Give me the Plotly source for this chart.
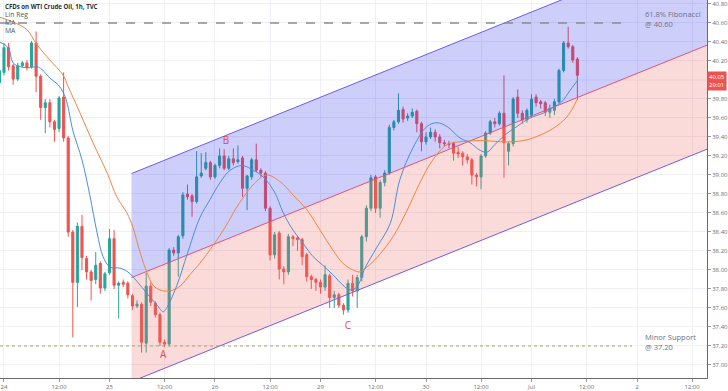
import plotly.graph_objects as go

# ---------------- data ----------------
bar_index = list(range(-1, 126))

opens = [39.97, 40.08, 40.34, 40.15, 40.01, 40.15, 40.18, 40.14, 40.39, 40.04,
         39.71, 39.76, 39.56, 39.49, 39.82, 39.39, 38.40, 37.87, 38.46, 38.12,
         37.98, 37.90, 38.07, 37.81, 37.97, 38.33, 37.84, 37.87, 37.86, 37.73,
         37.62, 37.64, 37.23, 37.83, 37.65, 37.53, 37.24, 37.22, 38.21, 38.18,
         38.36, 38.80, 38.78, 38.72, 38.99, 39.07, 39.13, 38.98, 39.10, 39.20,
         39.07, 39.17, 39.14, 39.18, 38.86, 38.98, 39.16, 39.05, 39.02, 38.65,
         38.16, 38.39, 38.01, 37.98, 38.35, 38.34, 38.32, 38.16, 37.93, 37.90,
         37.87, 37.82, 37.94, 37.71, 37.74, 37.63, 37.58, 37.86, 37.78, 37.92,
         38.35, 38.65, 38.98, 38.65, 38.92, 39.02, 39.50, 39.56, 39.69, 39.60,
         39.62, 39.67, 39.54, 39.35, 39.40, 39.45, 39.40, 39.34, 39.33, 39.33,
         39.24, 39.23, 39.19, 39.16, 39.00, 38.98, 39.20, 39.44, 39.56, 39.54,
         39.65, 39.25, 39.33, 39.82, 39.65, 39.58, 39.63, 39.82, 39.77, 39.76,
         39.66, 39.68, 39.77, 40.10, 40.39, 40.35, 40.22]

highs = [40.15, 40.39, 40.39, 40.17, 40.18, 40.20, 40.21, 40.41, 40.51, 40.06,
         39.80, 39.80, 39.58, 39.83, 40.08, 39.41, 38.42, 38.50, 38.58, 38.15,
         38.00, 38.19, 38.09, 37.98, 38.43, 38.42, 37.88, 37.90, 37.88, 37.75,
         37.68, 37.66, 37.97, 37.87, 37.67, 37.55, 37.27, 38.23, 38.24, 38.37,
         38.82, 38.90, 38.80, 39.25, 39.23, 39.24, 39.15, 39.12, 39.28, 39.27,
         39.20, 39.28, 39.31, 39.20, 39.00, 39.18, 39.33, 39.07, 39.04, 38.67,
         38.40, 38.41, 38.04, 38.38, 38.37, 38.36, 38.34, 38.18, 37.95, 37.92,
         37.90, 38.05, 37.96, 37.78, 37.76, 37.65, 37.90, 37.95, 37.95, 38.37,
         38.68, 39.00, 39.00, 38.95, 39.05, 39.53, 39.58, 39.86, 39.72, 39.65,
         39.70, 39.69, 39.56, 39.45, 39.50, 39.48, 39.43, 39.37, 39.36, 39.35,
         39.30, 39.25, 39.22, 39.18, 39.02, 39.22, 39.46, 39.58, 39.60, 39.67,
         40.05, 39.35, 39.82, 39.90, 39.68, 39.70, 39.85, 39.85, 39.79, 39.78,
         39.74, 39.80, 40.12, 40.41, 40.56, 40.37, 40.24]

lows = [39.93, 40.05, 40.10, 39.95, 39.99, 40.13, 40.10, 40.12, 39.87, 39.58,
        39.44, 39.50, 39.35, 39.45, 39.35, 38.35, 37.29, 37.61, 38.00, 37.90,
        37.68, 37.85, 37.75, 37.78, 37.95, 37.80, 37.49, 37.82, 37.70, 37.58,
        37.60, 37.13, 37.13, 37.62, 37.50, 37.20, 37.19, 37.20, 38.15, 37.93,
        38.33, 38.74, 38.56, 38.70, 38.97, 39.05, 38.95, 38.96, 39.07, 39.05,
        39.05, 39.10, 39.12, 38.77, 38.63, 38.95, 39.03, 38.98, 38.62, 38.10,
        38.12, 37.90, 37.85, 37.95, 38.25, 38.20, 38.05, 37.88, 37.80, 37.78,
        37.75, 37.78, 37.60, 37.60, 37.60, 37.53, 37.55, 37.72, 37.60, 37.88,
        38.30, 38.62, 38.60, 38.55, 38.88, 39.00, 39.47, 39.54, 39.55, 39.57,
        39.60, 39.45, 39.25, 39.32, 39.38, 39.35, 39.28, 39.30, 39.28, 39.15,
        39.18, 39.10, 39.12, 38.90, 38.88, 38.85, 39.18, 39.42, 39.50, 39.52,
        38.97, 39.10, 39.30, 39.60, 39.54, 39.55, 39.60, 39.72, 39.70, 39.62,
        39.60, 39.63, 39.75, 40.08, 40.33, 40.18, 39.79]

closes = [40.10, 40.34, 40.14, 40.01, 40.15, 40.18, 40.13, 40.39, 40.04, 39.71,
          39.76, 39.56, 39.48, 39.81, 39.39, 38.40, 37.87, 38.46, 38.13, 37.98,
          37.89, 38.05, 37.81, 37.96, 38.33, 37.84, 37.86, 37.85, 37.74, 37.62,
          37.64, 37.24, 37.83, 37.66, 37.53, 37.24, 37.22, 38.21, 38.18, 38.35,
          38.79, 38.77, 38.72, 38.98, 39.02, 39.13, 38.98, 39.10, 39.20, 39.07,
          39.17, 39.13, 39.16, 38.86, 38.99, 39.16, 39.05, 39.02, 38.65, 38.16,
          38.37, 38.01, 37.98, 38.35, 38.33, 38.32, 38.14, 37.93, 37.90, 37.87,
          37.82, 37.95, 37.71, 37.74, 37.63, 37.58, 37.86, 37.78, 37.92, 38.35,
          38.65, 38.97, 38.65, 38.92, 39.02, 39.50, 39.56, 39.68, 39.59, 39.62,
          39.66, 39.54, 39.35, 39.40, 39.45, 39.40, 39.34, 39.33, 39.32, 39.23,
          39.22, 39.19, 39.16, 39.00, 38.98, 39.20, 39.44, 39.56, 39.54, 39.65,
          39.34, 39.33, 39.80, 39.65, 39.58, 39.68, 39.80, 39.76, 39.75, 39.66,
          39.70, 39.77, 40.10, 40.39, 40.35, 40.21, 40.05]

# fast MA (blue), read at sample bars
ma_fast_x = [-0.87, 0.9, 2.0, 3.5, 5.7, 7.2, 8.3, 10, 11.8, 12.9, 13.7, 15, 17, 18.7,
             20.3, 21.6, 23.1, 25.3, 27, 29, 31.2, 33.4, 34.7, 35.8, 37.7, 39.9,
             42.7, 44.9, 47.1, 49.3, 51.9, 54.3, 56.5, 59.1, 60.8, 63, 65.2, 67.4,
             69.5, 71.7, 73.9, 75.4, 76.9, 78.7, 81.3, 84.2, 86.3, 89.2, 92.2, 94.4,
             96.6, 99.4, 101.6, 103.8, 105.3, 107, 109.7, 111.8, 114.7, 117.5,
             119.7, 121.6, 123.4, 125.1]
ma_fast_y = [40.40, 40.34, 40.18, 40.14, 40.13, 40.14, 40.11, 40.02, 39.95, 39.87,
             39.77, 39.47, 39.16, 38.79, 38.39, 38.14, 38.03, 38.02, 37.98, 37.88,
             37.75, 37.63, 37.56, 37.63, 37.84, 38.16, 38.55, 38.74, 38.92, 39.05,
             39.10, 39.05, 38.98, 38.81, 38.61, 38.42, 38.28, 38.14, 38.05, 37.95,
             37.84, 37.79, 37.82, 38.02, 38.24, 38.49, 38.95, 39.29, 39.51, 39.55,
             39.51, 39.39, 39.34, 39.26, 39.24, 39.32, 39.44, 39.51, 39.60, 39.65,
             39.71, 39.77, 39.89, 40.00]

# slow MA (orange)
ma_slow_x = [-0.87, 2.0, 5, 7.2, 10, 12.9, 14, 16.6, 19.4, 22.5, 24.6, 26.8, 28.1,
             29.7, 31.2, 32.5, 34, 36.2, 38.4, 40.5, 42.7, 45.6, 48.2, 51.4, 55.2,
             57.3, 60.2, 63, 66.1, 68.9, 71.7, 73.9, 76.1, 77.6, 79.1, 81.3, 84.8,
             87.9, 90.7, 93.5, 96.6, 99.4, 102.2, 105.3, 108.1, 111, 114, 116.9,
             119.7, 122.7, 124.9]
ma_slow_y = [40.66, 40.61, 40.53, 40.37, 40.21, 40.05, 39.93, 39.65, 39.34, 39.02,
             38.77, 38.60, 38.45, 38.18, 37.97, 37.84, 37.79, 37.78, 37.83, 37.95,
             38.07, 38.26, 38.45, 38.71, 38.94, 39.00, 38.93, 38.79, 38.63, 38.42,
             38.21, 38.07, 38.00, 37.98, 38.03, 38.13, 38.35, 38.63, 38.92, 39.16,
             39.32, 39.35, 39.36, 39.36, 39.35, 39.35, 39.37, 39.42, 39.49, 39.61,
             39.79]

day_labels = ["24", "25", "26", "29", "30", "Jul", "2"]
half_day_label = "12:00"

price_ticks_from, price_ticks_to, price_step = 37.0, 40.8, 0.2

fib_level = 40.60
support_level = 37.20

channel_start = 27.8
channel_end = 153.3
channel_mid_start = 37.92
channel_slope = 0.0195
channel_dev = 1.095

wave_labels = ["A", "B", "C"]
wave_x = [34.7, 48.4, 75.0]
wave_y = [37.10, 39.35, 37.41]

last_price = 40.05
countdown = "29:01"

# ---------------- figure ----------------
BARS_PER_DAY = 23
tickvals, ticktext = [], []
for d, lab in enumerate(day_labels):
    tickvals += [d * BARS_PER_DAY, d * BARS_PER_DAY + 12]
    ticktext += [lab, half_day_label]

n_price = int(round((price_ticks_to - price_ticks_from) / price_step)) + 1
all_levels = [round(price_ticks_from + i * price_step, 2) for i in range(n_price)]
# the tick label hidden behind the last-price tag is not shown
y_tickvals = [v for v in all_levels if abs(v - last_price) > 0.1]
hidden_levels = [v for v in all_levels if v not in y_tickvals]

fig = go.Figure()

fig.add_trace(go.Candlestick(
    x=bar_index, open=opens, high=highs, low=lows, close=closes,
    increasing=dict(line=dict(color="#26a69a", width=1), fillcolor="#26a69a"),
    decreasing=dict(line=dict(color="#ef5350", width=1), fillcolor="#ef5350"),
    whiskerwidth=0, showlegend=False, hoverinfo="skip"))

cx = [channel_start, channel_end]
mid = [channel_mid_start + channel_slope * (x - channel_start) for x in cx]
lower = [m - channel_dev for m in mid]
upper = [m + channel_dev for m in mid]

fig.add_trace(go.Scatter(x=cx, y=lower, mode="lines",
                         line=dict(color="#6f5ce6", width=1), showlegend=False,
                         hoverinfo="skip"))
fig.add_trace(go.Scatter(x=cx, y=mid, mode="lines", fill="tonexty",
                         fillcolor="rgba(240,100,100,0.24)",
                         line=dict(color="#e0527a", width=1), showlegend=False,
                         hoverinfo="skip"))
fig.add_trace(go.Scatter(x=cx, y=upper, mode="lines", fill="tonexty",
                         fillcolor="rgba(50,50,240,0.24)",
                         line=dict(color="#6f5ce6", width=1), showlegend=False,
                         hoverinfo="skip"))

fig.add_trace(go.Scatter(x=ma_slow_x, y=ma_slow_y, mode="lines",
                         line=dict(color="#f0853f", width=1, shape="spline"),
                         showlegend=False, hoverinfo="skip"))
fig.add_trace(go.Scatter(x=ma_fast_x, y=ma_fast_y, mode="lines",
                         line=dict(color="#4a8fd8", width=1, shape="spline"),
                         showlegend=False, hoverinfo="skip"))

fig.add_trace(go.Scatter(x=wave_x, y=wave_y, mode="text", text=wave_labels,
                         textfont=dict(color="#e5484d", size=10, family="Open Sans"),
                         showlegend=False, hoverinfo="skip"))

for v in hidden_levels:
    fig.add_shape(type="line", xref="paper", yref="y", x0=0, x1=1, y0=v, y1=v,
                  layer="below", line=dict(color="#eef0f5", width=1))

fig.add_shape(type="line", xref="paper", yref="y", x0=0, x1=0.891,
              y0=fib_level, y1=fib_level,
              line=dict(color="#8c8c8c", width=1.3, dash="dash"))
fig.add_shape(type="line", xref="paper", yref="y", x0=0, x1=0.894,
              y0=support_level, y1=support_level,
              line=dict(color="#a3a37f", width=1.2, dash="dot"))

txt = "#6b7389"
fig.add_annotation(xref="paper", yref="y", x=0.909, y=fib_level, xanchor="left",
                   yanchor="middle", yshift=4, showarrow=False, align="left",
                   text=f"61.8% Fibonacci<br>@ {fib_level:.2f}",
                   font=dict(size=7.5, color=txt, family="Open Sans"))
fig.add_annotation(xref="paper", yref="y", x=0.909, y=support_level, xanchor="left",
                   yanchor="middle", yshift=4, showarrow=False, align="left",
                   text=f"Minor Support<br>@ {support_level:.2f}",
                   font=dict(size=7.5, color=txt, family="Open Sans"))

legend_rows = ["CFDs on WTI Crude Oil, 1h, TVC", "Lin Reg", "MA", "MA"]
for k, row in enumerate(legend_rows):
    fig.add_annotation(xref="paper", yref="paper", x=0.004, y=1 - (7 + 8 * k) / 378,
                       xanchor="left", yanchor="middle", showarrow=False,
                       text=f"<b>{row}</b>" if k == 0 else row,
                       font=dict(size=6.1 if k == 0 else 6.8,
                                 color="#2a2e39" if k == 0 else "#555",
                                 family="Open Sans"))

fig.add_annotation(xref="paper", yref="y", x=1.0, y=last_price, xanchor="left",
                   yanchor="top", yshift=4, showarrow=False,
                   text=f"{last_price:.2f}<br>{countdown}",
                   bgcolor="#ef5350", borderpad=1,
                   font=dict(size=6, color="white", family="Open Sans"))

fig.update_layout(
    width=728, height=391,
    margin=dict(l=0, r=21, t=0, b=13),
    paper_bgcolor="white", plot_bgcolor="white",
    boxgap=0.35,
    xaxis=dict(range=[-0.87, 153.26], tickvals=tickvals, ticktext=ticktext,
               showgrid=True, gridcolor="#eef0f5", gridwidth=1,
               showline=True, linecolor="#6a6a6a", ticks="outside", ticklen=3,
               tickcolor="#9a9a9a", tickfont=dict(size=6, color="#6e6e6e",
                                                  family="Open Sans"),
               rangeslider=dict(visible=False), zeroline=False, fixedrange=True),
    yaxis=dict(range=[36.863, 40.842], side="right", tickvals=y_tickvals,
               tickformat=".2f", showgrid=True, gridcolor="#eef0f5",
               showline=True, linecolor="#6a6a6a", ticks="outside", ticklen=3,
               tickcolor="#9a9a9a", tickfont=dict(size=6, color="#6e6e6e",
                                                  family="Open Sans"),
               zeroline=False, fixedrange=True),
)

fig.write_html("out.html",
               config={"displayModeBar": False},
               post_script="document.body.style.margin='0';"
                           "document.body.style.overflow='hidden';")
